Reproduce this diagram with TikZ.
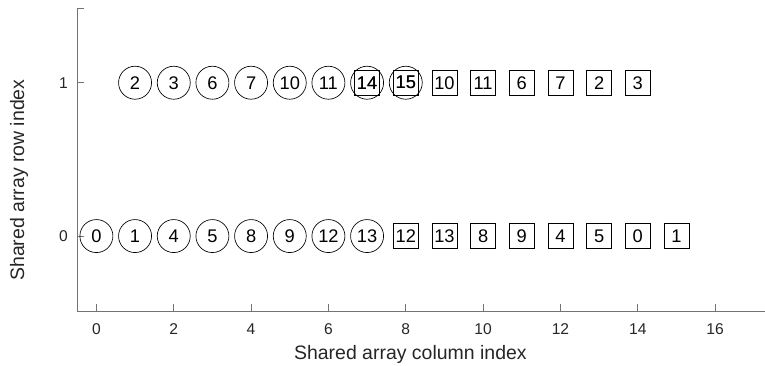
\documentclass[tikz,border=0pt]{standalone}
\usepackage{fontspec}
\setmainfont{Liberation Sans}
\definecolor{axisgray}{gray}{0.45}
\definecolor{labelgray}{gray}{0.15}
\tikzset{
 lane/.style={circle, draw, line width=0.5pt, minimum size=24.75pt, inner sep=0pt, font=\fontsize{13.7}{16}\selectfont},
 slot/.style={rectangle, draw, line width=0.5pt, minimum size=18.75pt, inner sep=0pt, font=\fontsize{13.7}{16}\selectfont},
 ticklabel/.style={text=labelgray, inner sep=0pt, font=\fontsize{11.7}{14}\selectfont},
 axlabel/.style={text=labelgray, font=\fontsize{14.6}{17}\selectfont},
}
\begin{document}
\begin{tikzpicture}[x=29pt, y=115pt]
\useasboundingbox (-2.493,-0.8415) rectangle (17.29,1.5395);
% axes
\draw[axisgray, line width=0.6pt] (17.29,-0.49) -- (-0.5,-0.49) -- (-0.5,1.485);
\foreach \x in {0,2,...,16} {
 \draw[axisgray, line width=0.6pt] (\x,-0.49) --++(0,5.25pt);
 \node[ticklabel] (xt\x) at (\x,-0.607) {\x};
}
\foreach \y in {-0.49,1.485} {
 \draw[axisgray, line width=0.6pt] (-0.5,\y) --++(5.25pt,0);
}
\foreach \y in {0,1} {
 \draw[axisgray, line width=0.6pt] (-0.5,\y) --++(5.25pt,0);
 \node[ticklabel, anchor=east] (yt\y) at (-0.734,\y) {\y};
}
\node[axlabel] (xlab) at (8.12,-0.77) {Shared array column index};
\node[axlabel, rotate=90] (ylab) at (-2.0,0.365) {Shared array row index};
% row 0
\foreach \lab [count=\i from 8] in {12,13,8,9,4,5,0,1} {
 \node[slot] (s0-\i) at (\i,0) {\lab};
}
\foreach \lab [count=\i from 0] in {0,1,4,5,8,9,12,13} {
 \node[lane] (c0-\i) at (\i,0) {\lab};
}
% row 1
\foreach \lab [count=\i from 7] in {14,15,10,11,6,7,2,3} {
 \node[slot] (s1-\i) at (\i,1) {\lab};
}
\foreach \lab [count=\i from 1] in {2,3,6,7,10,11,14,15} {
 \node[lane] (c1-\i) at (\i,1) {\lab};
}
\end{tikzpicture}
\end{document}
